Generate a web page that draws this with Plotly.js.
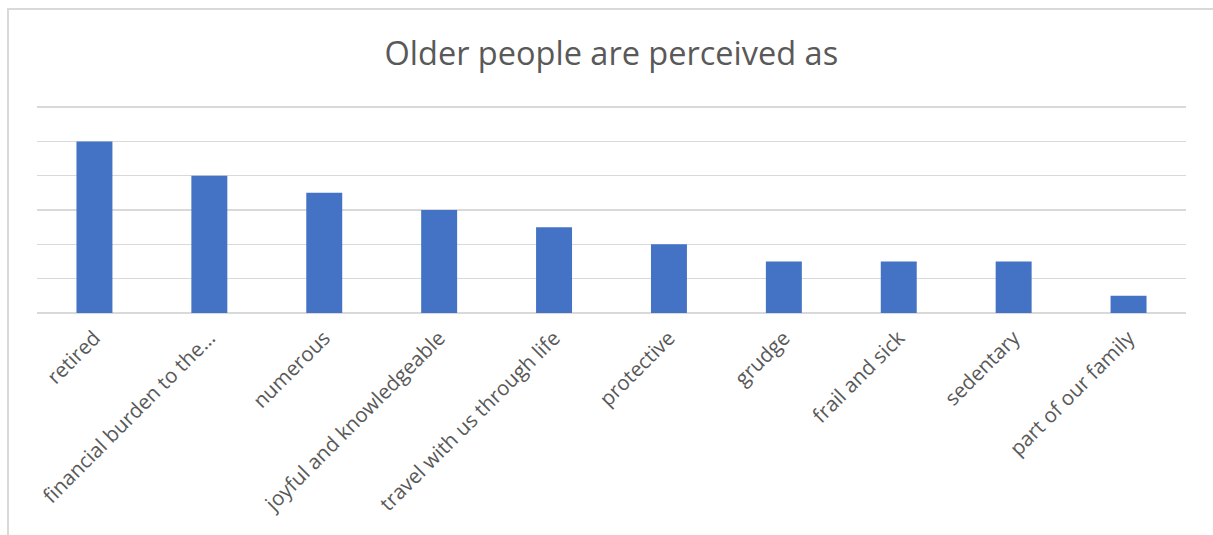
<!DOCTYPE html>
<html>
<head>
<meta charset="utf-8">
<script src="https://cdn.plot.ly/plotly-3.0.1.min.js"></script>
<style>
  html, body { margin: 0; padding: 0; background: #ffffff; }
  #chart { width: 1213px; height: 535px; position: relative; }
  #frame { position: absolute; left: 7px; top: 8px; width: 1300px; height: 600px;
           border-left: 2px solid #d9d9d9; border-top: 2px solid #d9d9d9; pointer-events: none; }
</style>
</head>
<body>
<div id="chart"></div>
<div id="frame"></div>
<script>
const categories = ["retired", "financial burden to the…", "numerous", "joyful and knowledgeable",
  "travel with us through life", "protective", "grudge", "frail and sick", "sedentary", "part of our family"];
const values = [5, 4, 3.5, 3, 2.5, 2, 1.5, 1.5, 1.5, 0.5];
const titleText = "Older people are perceived as";

const trace = {
  type: "bar",
  x: categories,
  y: values,
  marker: { color: "#4472c4", line: { width: 0 } },
  hoverinfo: "x+y"
};

const layout = {
  width: 1213,
  height: 535,
  margin: { l: 37, r: 27, t: 105, b: 222 },
  paper_bgcolor: "#ffffff",
  plot_bgcolor: "#ffffff",
  bargap: 0.687,
  showlegend: false,
  font: { family: "Open Sans, Segoe UI, sans-serif", color: "#595959" },
  title: {
    text: titleText,
    font: { family: "Open Sans, sans-serif", size: 32.5, color: "#595959" },
    x: 0.504, xanchor: "center", y: 0.9, yanchor: "middle"
  },
  xaxis: {
    type: "category",
    tickangle: -45,
    tickfont: { size: 20.5, color: "#595959" },
    ticklabelstandoff: 8,
    showgrid: false,
    showline: false,
    ticks: "",
    zeroline: false
  },
  yaxis: {
    range: [0, 6.06],
    tickvals: [0, 1, 2, 3, 4, 5, 6],
    showticklabels: false,
    showgrid: true,
    gridcolor: "#d9d9d9",
    gridwidth: 1.5,
    zeroline: true,
    zerolinecolor: "#d9d9d9",
    zerolinewidth: 1.5,
    ticks: ""
  }
};

Plotly.newPlot("chart", [trace], layout, { displayModeBar: false, staticPlot: true });
</script>
</body>
</html>
